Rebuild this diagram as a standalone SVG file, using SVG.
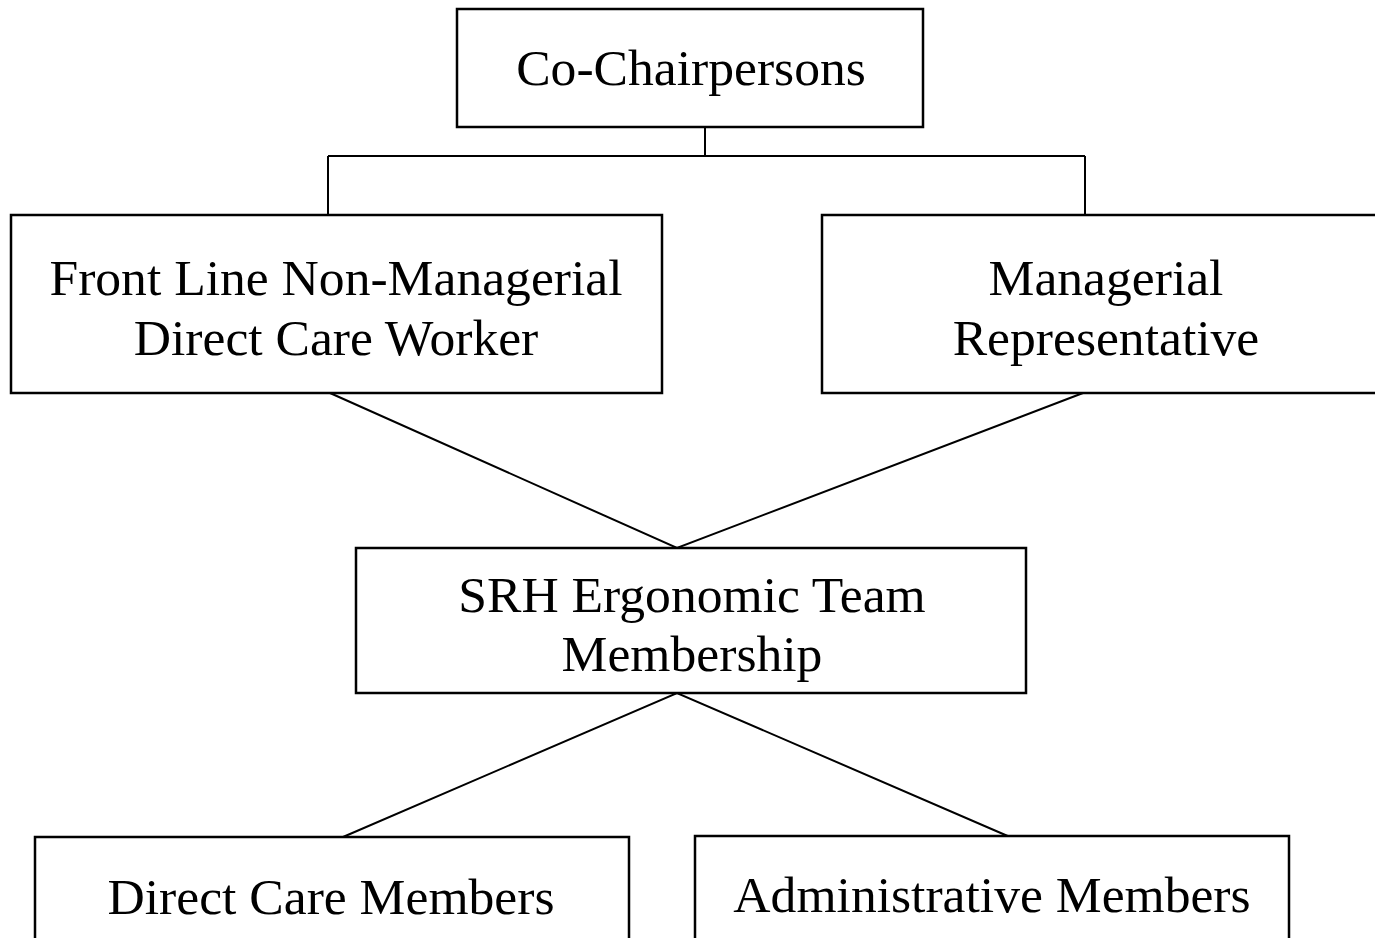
<svg xmlns="http://www.w3.org/2000/svg" width="1375" height="938" viewBox="0 0 1375 938">
<style>
.box{fill:#fff;stroke:#000;stroke-width:2.5}
.lbl{font-family:"Liberation Serif","Times New Roman",serif;font-size:51.6px;fill:#000;text-anchor:middle}
.conn{fill:none;stroke:#000;stroke-width:2}
</style>
<rect width="1375" height="938" fill="#fff"/>
<g id="connectors">
<path class="conn" d="M705,127 V156 M328,156 H1085 M328,156 V215 M1085,156 V215"/>
<path class="conn" d="M330,393 L677,548 L1083,393"/>
<path class="conn" d="M343,837 L677,693 L1010,837"/>
</g>
<g id="co-chairpersons">
<rect class="box" x="457" y="9" width="466" height="118"/>
<text class="lbl" x="691" y="85">Co-Chairpersons</text>
</g>
<g id="front-line">
<rect class="box" x="11" y="215" width="651" height="178"/>
<text class="lbl" x="336" y="295">Front Line Non-Managerial</text>
<text class="lbl" x="336" y="355">Direct Care Worker</text>
</g>
<g id="managerial">
<rect class="box" x="822" y="215" width="560" height="178"/>
<text class="lbl" x="1106" y="295">Managerial</text>
<text class="lbl" x="1106" y="355">Representative</text>
</g>
<g id="srh-team">
<rect class="box" x="356" y="548" width="670" height="145"/>
<text class="lbl" x="692" y="612">SRH Ergonomic Team</text>
<text class="lbl" x="692" y="671">Membership</text>
</g>
<g id="direct-care-members">
<rect class="box" x="35" y="837" width="594" height="120"/>
<text class="lbl" x="331" y="914">Direct Care Members</text>
</g>
<g id="administrative-members">
<rect class="box" x="695" y="836" width="594" height="120"/>
<text class="lbl" x="992" y="912">Administrative Members</text>
</g>
</svg>
